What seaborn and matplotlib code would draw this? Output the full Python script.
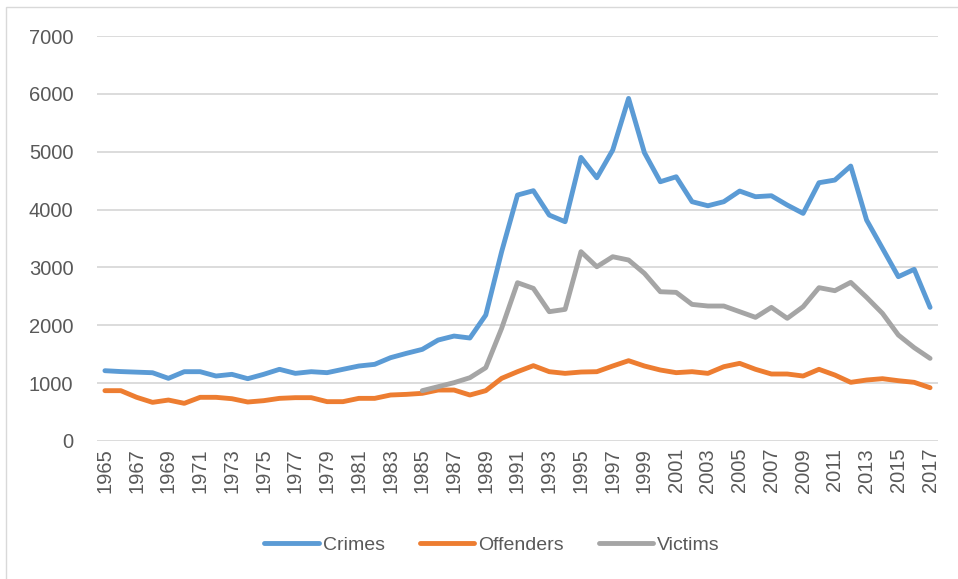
import numpy as np
import pandas as pd
import matplotlib
matplotlib.use("Agg")
import matplotlib.pyplot as plt
import seaborn as sns

years = list(range(1965, 2018))

crimes = [1215, 1200, 1190, 1180, 1083, 1198, 1198, 1123, 1152, 1077,
          1152, 1239, 1169, 1198, 1181, 1239, 1296, 1325, 1440, 1515,
          1584, 1745, 1814, 1780, 2177, 3272, 4251, 4326, 3905, 3790,
          4902, 4550, 5028, 5921, 4982, 4481, 4567, 4136, 4066, 4136,
          4320, 4222, 4239, 4078, 3934, 4464, 4510, 4752, 3819, 3330,
          2840, 2967, 2310]

offenders = [870, 870, 755, 668, 708, 651, 755, 755, 731, 674,
             697, 737, 749, 749, 680, 680, 737, 737, 795, 806,
             824, 881, 881, 795, 870, 1083, 1198, 1302, 1198, 1169,
             1192, 1198, 1296, 1388, 1296, 1227, 1181, 1198, 1169, 1284,
             1342, 1239, 1158, 1158, 1123, 1239, 1140, 1014, 1054, 1077,
             1042, 1014, 921]

# victims only recorded from 1985
victims = [np.nan] * 20 + [
    870, 939, 1008, 1094, 1267, 1947, 2736, 2638, 2235, 2275,
    3272, 3012, 3185, 3128, 2897, 2580, 2569, 2361, 2333, 2333,
    2235, 2137, 2310, 2120, 2321, 2650, 2598, 2742, 2483, 2206,
    1832, 1613, 1428]

series_names = ["Crimes", "Offenders", "Victims"]
colors = ["#5B9BD5", "#ED7D31", "#A5A5A5"]

df = pd.DataFrame({"Year": years, "Crimes": crimes,
                   "Offenders": offenders, "Victims": victims})
long_df = df.melt(id_vars="Year", var_name="Series", value_name="Count")

sns.set_theme(style="white")
plt.rcParams["font.family"] = ["Liberation Sans", "DejaVu Sans"]

fig = plt.figure(figsize=(9.58, 5.79), dpi=100)
ax = fig.add_axes([97 / 958, 1 - 441 / 579, (938 - 97) / 958, (441 - 36) / 579])

sns.lineplot(data=long_df, x="Year", y="Count", hue="Series",
             hue_order=series_names, palette=colors, linewidth=3.5,
             ax=ax, legend=False)

ax.set_xlim(1964.5, 2017.5)
ax.set_ylim(0, 7000)
ax.set_yticks(range(0, 7001, 1000))
ax.set_xticks(years[::2])
ax.set_xticklabels([str(y) for y in years[::2]], rotation=90)
ax.tick_params(axis="both", length=0, colors="#595959", labelsize=14.5)
ax.tick_params(axis="y", pad=17)
ax.tick_params(axis="x", pad=5)
ax.grid(axis="y", color="#D9D9D9", linewidth=1.3)
ax.set_axisbelow(True)
for s in ax.spines.values():
    s.set_visible(False)
ax.set_xlabel("")
ax.set_ylabel("")

# legend along the bottom
handles = [plt.Line2D([], [], color=c, linewidth=3.5, solid_capstyle="round")
           for c in colors]
fig.legend(handles, series_names, loc="center", bbox_to_anchor=(492 / 958, 1 - 545 / 579),
           ncol=3, frameon=False, fontsize=14, labelcolor="#595959",
           handlelength=2.8, handletextpad=0.2, columnspacing=1.8)

# thin chart border like the original
fig.patches.append(plt.Rectangle((6 / 958, -0.05), 1.2, 1 - 7 / 579 + 0.05,
                                 transform=fig.transFigure, fill=False,
                                 edgecolor="#D9D9D9", linewidth=1))

fig.savefig("out.png", dpi=100)
